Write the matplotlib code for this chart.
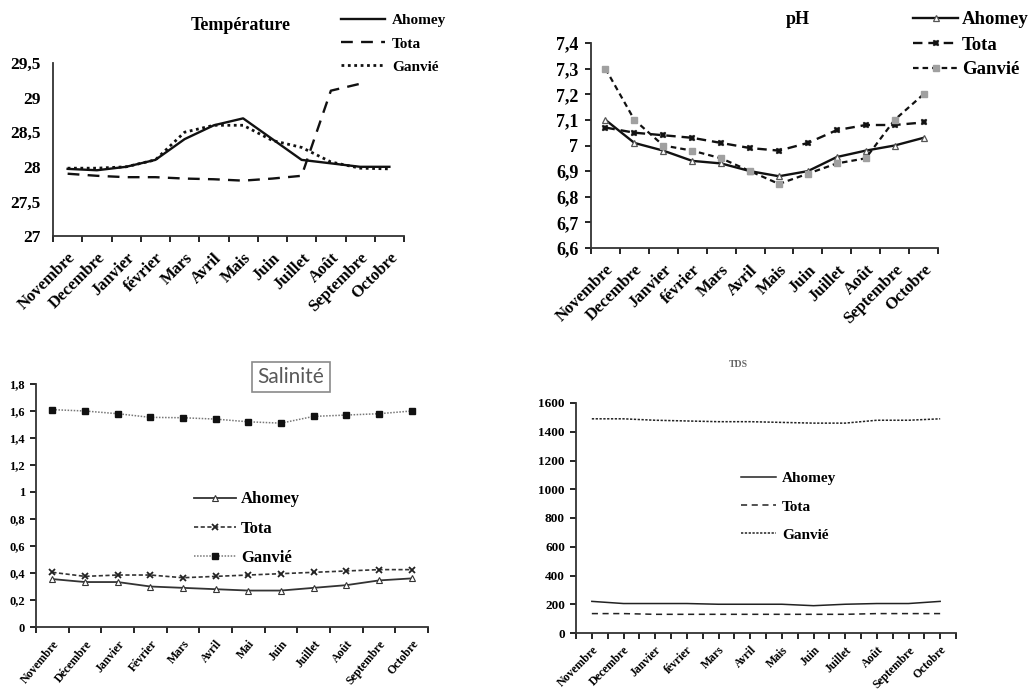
import numpy as np
import matplotlib
matplotlib.use("Agg")
import matplotlib.pyplot as plt
from matplotlib.ticker import FuncFormatter
from matplotlib.transforms import ScaledTranslation

plt.rcParams['font.family'] = ['Liberation Serif', 'DejaVu Serif']
plt.rcParams['font.weight'] = 'bold'

months_a = ["Novembre", "Decembre", "Janvier", "février", "Mars", "Avril", "Mais",
            "Juin", "Juillet", "Août", "Septembre", "Octobre"]
months_sal = ["Novembre", "Décembre", "Janvier", "Février", "Mars", "Avril", "Mai",
              "Juin", "Juillet", "Août", "Septembre", "Octobre"]
sites = ["Ahomey", "Tota", "Ganvié"]

temp_ahomey = [27.97, 27.95, 28.0, 28.1, 28.4, 28.6, 28.7, 28.4, 28.1, 28.05, 28.0, 28.0]
temp_tota = [27.9, 27.87, 27.85, 27.85, 27.83, 27.82, 27.8, 27.83, 27.87, 29.1, 29.2, np.nan]
temp_ganvie = [27.98, 27.98, 28.0, 28.1, 28.5, 28.6, 28.6, 28.38, 28.28, 28.07, 27.98, 27.97]

ph_ahomey = [7.10, 7.01, 6.98, 6.94, 6.93, 6.90, 6.88, 6.90, 6.955, 6.98, 7.00, 7.03]
ph_tota = [7.07, 7.05, 7.04, 7.03, 7.01, 6.99, 6.98, 7.01, 7.06, 7.08, 7.08, 7.09]
ph_ganvie = [7.30, 7.10, 7.00, 6.98, 6.95, 6.90, 6.85, 6.89, 6.93, 6.95, 7.10, 7.20]

sal_ahomey = [0.355, 0.333, 0.333, 0.30, 0.29, 0.28, 0.27, 0.27, 0.29, 0.31, 0.345, 0.36]
sal_tota = [0.405, 0.375, 0.385, 0.385, 0.365, 0.375, 0.385, 0.395, 0.405, 0.415, 0.425, 0.425]
sal_ganvie = [1.61, 1.60, 1.58, 1.553, 1.55, 1.54, 1.52, 1.51, 1.56, 1.57, 1.58, 1.60]

tds_ahomey = [220, 205, 205, 205, 200, 200, 200, 190, 200, 205, 205, 220]
tds_tota = [135, 135, 130, 130, 130, 130, 130, 130, 130, 135, 135, 135]
tds_ganvie = [1490, 1490, 1480, 1475, 1470, 1470, 1465, 1460, 1460, 1480, 1480, 1490]

W, H = 1034, 695
fig = plt.figure(figsize=(W / 100, H / 100), dpi=100)


def add_ax(x0, x1, ytop, ybot):
    return fig.add_axes([x0 / W, 1 - ybot / H, (x1 - x0) / W, (ybot - ytop) / H])


comma = FuncFormatter(lambda v, p: ("%g" % round(v, 3)).replace(".", ","))


def style_axis(ax, labels, ylim, yticks, fs_y, fs_x, rot=45, center_ticks=False,
               xpad=3, ypad=4, dx=0):
    n = len(labels)
    x = np.arange(n)
    ax.set_xlim(-0.5, n - 0.5)
    ax.set_ylim(*ylim)
    ax.set_yticks(yticks)
    ax.yaxis.set_major_formatter(comma)
    ax.set_xticks(x)
    ax.set_xticklabels(labels, rotation=rot, ha='right', va='top', rotation_mode='anchor',
                       fontsize=fs_x, fontweight='bold')
    if dx:
        off = ScaledTranslation(dx / 72, 0, fig.dpi_scale_trans)
        for lab in ax.get_xticklabels():
            lab.set_transform(lab.get_transform() + off)
    ax.set_xticks(np.arange(-0.5, n, 1.0), minor=True)
    ax.tick_params(axis='x', which='major', length=4 if center_ticks else 0, width=1.2,
                   pad=xpad)
    ax.tick_params(axis='x', which='minor', length=4, width=1.2, direction='out')
    ax.tick_params(axis='y', length=4, width=1.2, labelsize=fs_y, pad=ypad)
    for lab in ax.get_yticklabels():
        lab.set_fontweight('bold')
    for s in ['top', 'right']:
        ax.spines[s].set_visible(False)
    for s in ['left', 'bottom']:
        ax.spines[s].set_linewidth(1.3)
        ax.spines[s].set_color('#333333')
    return x


# ---------------- Température ----------------
ax1 = add_ax(53, 404, 63, 236)
x = style_axis(ax1, months_a, (27, 29.5), np.arange(27, 29.51, 0.5), 12.5, 12,
               xpad=10, ypad=6)
ax1.tick_params(axis='y', length=0, pad=9)
ax1.plot(x, temp_ahomey, color='#111111', lw=1.7, ls='-', label=sites[0])
ax1.plot(x, temp_tota, color='#111111', lw=1.7, ls=(0, (5, 3.5)), label=sites[1])
ax1.plot(x, temp_ganvie, color='#111111', lw=2.0, ls=(0, (1, 1.3)), label=sites[2])
fig.text(241 / W, 1 - 26 / H, "Température", ha='center', va='center', fontsize=13,
         fontweight='bold')
h, l = ax1.get_legend_handles_labels()
fig.legend(h, l, loc='upper left', bbox_to_anchor=(333 / W, 1 - 6 / H), frameon=False,
           prop={'family': 'Liberation Serif', 'weight': 'bold', 'size': 11},
           handlelength=2.9, handletextpad=0.45, labelspacing=0.62, borderpad=0)

# ---------------- pH ----------------
ax2 = add_ax(591, 938, 43, 248)
x = style_axis(ax2, months_a, (6.6, 7.4), np.arange(6.6, 7.41, 0.1), 13, 12,
               xpad=10, ypad=5)
ax2.plot(x, ph_ahomey, color='#111111', lw=1.7, ls='-', marker='^', ms=4.5,
         mfc='white', mec='#555555', mew=0.9, label=sites[0])
ax2.plot(x, ph_tota, color='#111111', lw=1.7, ls=(0, (4, 2.5)), marker='X', ms=5,
         mfc='#111111', mec='#111111', mew=0.3, label=sites[1])
ax2.plot(x, ph_ganvie, color='#111111', lw=1.6, ls=(0, (2.5, 1.8)), marker='s', ms=5,
         mfc='#a0a0a0', mec='#a0a0a0', label=sites[2])
fig.text(798 / W, 1 - 19 / H, "pH", ha='center', va='center', fontsize=13, fontweight='bold')
h, l = ax2.get_legend_handles_labels()
fig.legend(h, l, loc='upper left', bbox_to_anchor=(904 / W, 1 - 2 / H), frameon=False,
           prop={'family': 'Liberation Serif', 'weight': 'bold', 'size': 13.5},
           handlelength=2.4, handletextpad=0.2, labelspacing=0.42, borderpad=0)

# ---------------- Salinité ----------------
ax3 = add_ax(36, 428, 384, 627)
x = style_axis(ax3, months_sal, (0, 1.8), np.arange(0, 1.81, 0.2), 9, 8.5, rot=50,
               xpad=8, ypad=4, dx=-4)
ax3.plot(x, sal_ahomey, color='#333333', lw=1.3, ls='-', marker='^', ms=4.5,
         mfc='white', mec='#333333', mew=0.8, label=sites[0])
ax3.plot(x, sal_tota, color='#333333', lw=1.2, ls=(0, (2.5, 1.5)), marker='x', ms=5,
         mec='#222222', mew=1.3, label=sites[1])
ax3.plot(x, sal_ganvie, color='#777777', lw=1.1, ls=(0, (1, 1)), marker='s', ms=4.2,
         mfc='#111111', mec='#111111', label=sites[2])
fig.text(291 / W, 1 - 377 / H, "Salinité", ha='center', va='center', fontsize=15,
         color='#595959', family=['Lato', 'DejaVu Sans'], fontweight='normal',
         bbox=dict(boxstyle='square,pad=0.25', fc='white', ec='#8a8a8a', lw=1.2))
h, l = ax3.get_legend_handles_labels()
fig.legend(h, l, loc='upper left', bbox_to_anchor=(186 / W, 1 - 483 / H), frameon=False,
           prop={'family': 'Liberation Serif', 'weight': 'bold', 'size': 12},
           handlelength=2.5, handletextpad=0.3, labelspacing=0.8, borderpad=0)

# ---------------- TDS ----------------
ax4 = add_ax(576, 956, 403, 633)
x = style_axis(ax4, months_a, (0, 1600), np.arange(0, 1601, 200), 9.5, 8.5,
               center_ticks=True, xpad=4, ypad=4)
ax4.plot(x, tds_ahomey, color='#222222', lw=1.1, ls='-', label=sites[0])
ax4.plot(x, tds_tota, color='#222222', lw=1.1, ls=(0, (4, 3)), label=sites[1])
ax4.plot(x, tds_ganvie, color='#222222', lw=1.1, ls=(0, (1.5, 1)), label=sites[2])
fig.text(738 / W, 1 - 364 / H, "TDS", ha='center', va='center', fontsize=7,
         color='#666666', fontweight='bold')
h, l = ax4.get_legend_handles_labels()
fig.legend(h, l, loc='upper left', bbox_to_anchor=(733 / W, 1 - 464 / H), frameon=False,
           prop={'family': 'Liberation Serif', 'weight': 'bold', 'size': 11},
           handlelength=2.3, handletextpad=0.4, labelspacing=0.95, borderpad=0)

fig.savefig("out.png", dpi=100, facecolor='white')
